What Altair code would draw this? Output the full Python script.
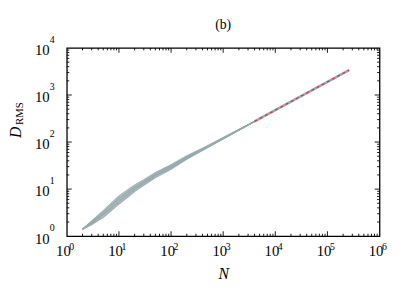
import altair as alt
import pandas as pd

# N values for the simulated trajectories (gray band)
N_pts = [2, 3, 4, 5, 7, 10, 15, 20, 30, 50, 100, 200, 500, 1000, 2000, 4000]
series = {
    "s1": [1.41, 2.10, 2.80, 3.50, 5.00, 7.20, 9.80, 12.2, 15.8, 22.5, 33.0, 51.0, 84.0, 125, 186, 278],
    "s2": [1.41, 2.05, 2.70, 3.30, 4.70, 6.80, 9.30, 11.6, 15.0, 21.5, 32.0, 49.0, 82.0, 123, 184, 276],
    "s3": [1.41, 2.00, 2.60, 3.20, 4.50, 6.40, 8.90, 11.2, 14.5, 21.0, 31.0, 48.0, 81.0, 121, 183, 275],
    "s4": [1.41, 1.95, 2.50, 3.00, 4.20, 6.00, 8.40, 10.6, 14.0, 20.2, 30.0, 47.0, 80.0, 120, 182, 275],
    "s5": [1.41, 1.90, 2.40, 2.90, 4.00, 5.70, 8.00, 10.2, 13.5, 19.5, 29.0, 46.0, 79.0, 119, 181, 274],
    "s6": [1.41, 1.85, 2.30, 2.80, 3.80, 5.30, 7.60, 9.80, 13.0, 19.0, 28.0, 45.0, 78.0, 118, 180, 273],
    "s7": [1.41, 1.80, 2.20, 2.60, 3.60, 5.00, 7.20, 9.30, 12.4, 18.2, 27.0, 44.0, 77.0, 117, 179, 272],
    "s8": [1.41, 1.75, 2.15, 2.50, 3.40, 4.80, 6.80, 8.90, 12.0, 17.5, 26.5, 43.0, 76.0, 116, 178, 272],
    "s9": [1.41, 1.98, 2.55, 3.10, 4.40, 6.20, 8.70, 10.9, 14.3, 20.6, 30.5, 47.5, 80.5, 120, 182, 275],
    "s10": [1.41, 1.88, 2.35, 2.85, 3.90, 5.50, 7.80, 10.0, 13.2, 19.2, 28.5, 45.5, 78.5, 118, 180, 274],
}
# long-N tail (single trajectory)
tail_N = [4000, 10000, 30000, 100000, 260000]
tail_D = [275, 477, 920, 1900, 3380]
# fitted power law (red dashed)
fit_N = [4000, 260000]
fit_D = [275, 3380]

x_major = [1, 10, 100, 1000, 10000, 100000, 1000000]
x_exp = ["0", "1", "2", "3", "4", "5", "6"]
y_major = [1, 10, 100, 1000, 10000]
y_exp = ["0", "1", "2", "3", "4"]
x_minor = [d * k for d in [1, 10, 100, 1000, 10000, 100000] for k in range(2, 10)]
y_minor = [d * k for d in [1, 10, 100, 1000] for k in range(2, 10)]

rows = []
for name, vals in series.items():
    for n, d in zip(N_pts, vals):
        rows.append({"N": n, "D": d, "s": name})
band = pd.DataFrame(rows)
tail = pd.DataFrame({"N": tail_N, "D": tail_D})
fit = pd.DataFrame({"N": fit_N, "D": fit_D})

W, H = 319, 192
FONT = "Liberation Serif"

xscale = alt.Scale(type="log", domain=[1, 1e6], nice=False)
yscale = alt.Scale(type="log", domain=[1, 1e4], nice=False)

xaxis = alt.Axis(values=x_major, labelExpr="'10'", ticks=False, domain=False, grid=False,
                 labelFont=FONT, labelFontSize=15, labelColor="black", labelPadding=8,
                 labelOffset=-4, labelFlush=False, labelOverlap=False,
                 title="N", titleFont=FONT, titleFontStyle="italic", titleFontWeight="normal",
                 titleFontSize=16, titleColor="black", titlePadding=7)
yaxis = alt.Axis(values=y_major, labelExpr="'10'", ticks=False, domain=False, grid=False,
                 labelFont=FONT, labelFontSize=15, labelColor="black", labelPadding=18,
                 labelOffset=2, labelFlush=False, labelOverlap=False, title=None)

X = alt.X("N:Q", scale=xscale, axis=xaxis)
Y = alt.Y("D:Q", scale=yscale, axis=yaxis)

gray = "#97aaae"
lines = alt.Chart(band).mark_line(color=gray, strokeWidth=1.1, opacity=0.85).encode(
    x=X, y=Y, detail="s:N")
tail_line = alt.Chart(tail).mark_line(color=gray, strokeWidth=2.6).encode(x=X, y=Y)
fit_line = alt.Chart(fit).mark_line(color="#e8323c", strokeWidth=1.3, strokeDash=[3, 3]).encode(x=X, y=Y)

xmaj = pd.DataFrame({"N": x_major[1:-1]})
xmin = pd.DataFrame({"N": x_minor})
ymaj = pd.DataFrame({"D": y_major[1:-1]})
ymin = pd.DataFrame({"D": y_minor})

def xt(df, L):
    b = alt.Chart(df).mark_rule(color="black", strokeWidth=0.9).encode(
        x=X, y=alt.value(H), y2=alt.value(H - L))
    t = alt.Chart(df).mark_rule(color="black", strokeWidth=0.9).encode(
        x=X, y=alt.value(0), y2=alt.value(L))
    return [b, t]

def yt(df, L):
    l = alt.Chart(df).mark_rule(color="black", strokeWidth=0.9).encode(
        y=Y, x=alt.value(0), x2=alt.value(L))
    r = alt.Chart(df).mark_rule(color="black", strokeWidth=0.9).encode(
        y=Y, x=alt.value(W), x2=alt.value(W - L))
    return [l, r]

# exponents of the tick labels
xe = pd.DataFrame({"N": x_major, "e": x_exp})
ye = pd.DataFrame({"D": y_major, "e": y_exp})
x_exp_text = alt.Chart(xe).mark_text(font=FONT, fontSize=10, color="black", dx=5, align="center").encode(
    x=X, y=alt.value(H + 11), text="e:N")
y_exp_text = alt.Chart(ye).mark_text(font=FONT, fontSize=10, color="black", align="center", dy=-8).encode(
    y=Y, x=alt.value(-15), text="e:N")

one = pd.DataFrame({"a": [0]})
ylab_D = alt.Chart(one).mark_text(text="D", font=FONT, fontSize=16, fontStyle="italic",
                                  angle=270, color="black").encode(
    x=alt.value(-52), y=alt.value(86))
ylab_R = alt.Chart(one).mark_text(text="RMS", font=FONT, fontSize=11,
                                  angle=270, color="black").encode(
    x=alt.value(-48), y=alt.value(67))

chart = alt.layer(
    lines, tail_line, fit_line,
    *xt(xmaj, 5), *xt(xmin, 2.5), *yt(ymaj, 5), *yt(ymin, 2.5),
    x_exp_text, y_exp_text, ylab_D, ylab_R,
).properties(
    width=W, height=H,
    title=alt.TitleParams("(b)", font=FONT, fontSize=14, fontWeight="normal", color="black",
                          anchor="middle", offset=3),
    autosize=alt.AutoSizeParams(type="none"),
    padding={"left": 60, "top": 38, "right": 28, "bottom": 44},
).configure_view(stroke="black", strokeWidth=1.3)

chart.save("out.html", embed_options={"renderer": "svg", "actions": False})
